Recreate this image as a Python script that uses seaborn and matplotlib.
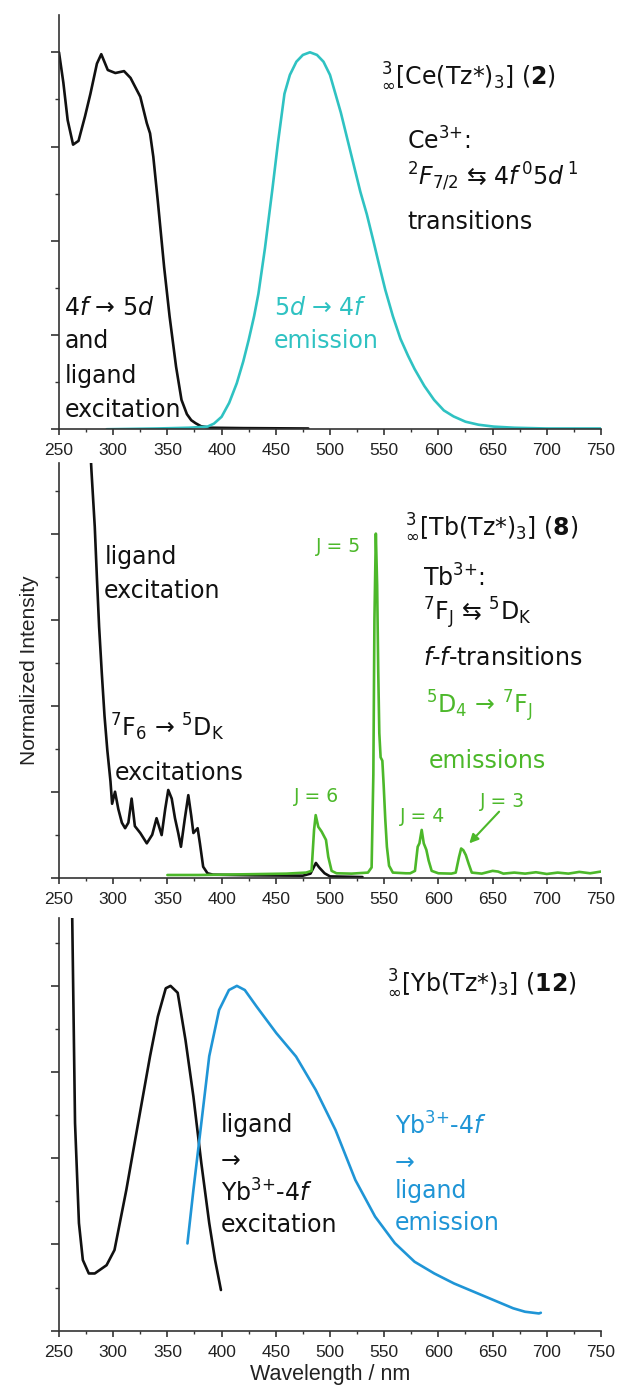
import numpy as np
import pandas as pd
import matplotlib
matplotlib.use("Agg")
import matplotlib.pyplot as plt
import seaborn as sns
from matplotlib.ticker import MultipleLocator, NullFormatter

# ---------------- data ----------------
ce_exc_wl = [250, 254, 258, 263, 268, 274, 279, 285, 289, 295, 302, 310, 316, 325, 331, 334,
             337, 341, 347, 352, 358, 363, 368, 372, 376, 381, 390, 420, 480]
ce_exc_i = [1.0, 0.92, 0.82, 0.755, 0.765, 0.83, 0.89, 0.97, 0.995, 0.953, 0.945, 0.95, 0.932,
            0.882, 0.812, 0.785, 0.723, 0.61, 0.43, 0.30, 0.166, 0.078, 0.04, 0.024, 0.016,
            0.008, 0.004, 0.003, 0.002]

ce_em_wl = [294, 340, 370, 387, 393, 400, 407, 414, 420, 425, 430, 434, 440, 447, 452, 458, 463,
            469, 475, 481.5, 488, 494, 500, 505, 510, 516, 522, 528, 534, 540, 545, 551, 558,
            565, 572, 578, 587, 596, 605, 614, 625, 637, 651, 670, 700, 750]
ce_em_i = [0.0, 0.002, 0.004, 0.007, 0.015, 0.033, 0.07, 0.122, 0.18, 0.237, 0.30, 0.36, 0.48,
           0.64, 0.76, 0.89, 0.94, 0.975, 0.993, 1.0, 0.993, 0.975, 0.94, 0.89, 0.84, 0.77, 0.70,
           0.63, 0.57, 0.50, 0.44, 0.37, 0.30, 0.24, 0.195, 0.16, 0.115, 0.078, 0.05, 0.034,
           0.02, 0.012, 0.007, 0.004, 0.002, 0.002]

tb_exc_wl = [278, 280, 283, 285, 287, 289.5, 292, 294.6, 297.5, 299, 301.7, 304.7, 308, 311, 314,
             317, 320, 325, 331, 336, 340, 344.7, 348, 350.8, 354, 357, 360, 362.5, 366, 369.3,
             372, 374, 377.9, 380, 383, 387, 392, 430, 475, 482, 487, 490, 495, 500, 530]
tb_exc_i = [1.3, 1.18, 1.02, 0.87, 0.73, 0.594, 0.47, 0.37, 0.28, 0.215, 0.25, 0.20, 0.16, 0.144,
            0.16, 0.23, 0.15, 0.13, 0.10, 0.125, 0.173, 0.124, 0.20, 0.255, 0.23, 0.173, 0.13,
            0.09, 0.17, 0.24, 0.18, 0.13, 0.144, 0.10, 0.032, 0.013, 0.009, 0.007, 0.006, 0.012,
            0.043, 0.03, 0.013, 0.004, 0.002]

tb_em_wl = [350, 380, 420, 460, 478, 483, 485.3, 486.8, 489.2, 492.3, 496.3, 498.4, 501.5, 506,
            520, 535, 538.4, 540, 541, 542.3, 543.5, 544.5, 545.5, 546.7, 548.3, 549.5, 551,
            552.5, 554.5, 558, 570, 574, 578.4, 580.9, 582.5, 584.6, 586.5, 588.9, 591, 593.8,
            600, 612, 616, 619, 621, 623, 625.3, 628, 630.8, 640, 650, 655, 660, 670, 680, 690,
            700, 710, 720, 730, 740, 750]
tb_em_i = [0.008, 0.008, 0.01, 0.012, 0.015, 0.02, 0.139, 0.182, 0.148, 0.134, 0.11, 0.061, 0.02,
           0.013, 0.012, 0.015, 0.03, 0.3, 0.75, 1.0, 0.85, 0.6, 0.42, 0.35, 0.34, 0.27, 0.17,
           0.09, 0.035, 0.015, 0.013, 0.013, 0.02, 0.09, 0.10, 0.139, 0.10, 0.081, 0.05, 0.02,
           0.013, 0.012, 0.015, 0.06, 0.085, 0.08, 0.066, 0.04, 0.015, 0.012, 0.02, 0.018, 0.012,
           0.015, 0.012, 0.016, 0.011, 0.015, 0.012, 0.017, 0.013, 0.018]

yb_exc_wl = [261, 262.2, 264.8, 268.4, 272, 277.5, 283, 293.9, 301.2, 312.1, 323, 334, 341.2,
             348.5, 352.9, 359.5, 366.7, 374, 381.3, 388.6, 394, 399.4]
yb_exc_i = [1.4, 1.2, 0.602, 0.312, 0.205, 0.166, 0.166, 0.19, 0.234, 0.408, 0.602, 0.796, 0.911,
            0.993, 1.0, 0.98, 0.843, 0.679, 0.486, 0.312, 0.205, 0.118]

yb_em_wl = [368.5, 374, 381.3, 388.6, 397.7, 406.8, 414.1, 421.4, 432.3, 450.5, 468.7, 486.9,
            505.1, 523.4, 541.6, 559.8, 578, 596.2, 614.4, 632.6, 650.8, 669, 679.9, 692.7, 694.5]
yb_em_i = [0.253, 0.408, 0.602, 0.796, 0.93, 0.988, 1.0, 0.988, 0.94, 0.863, 0.795, 0.698, 0.582,
           0.437, 0.331, 0.254, 0.2, 0.166, 0.137, 0.113, 0.089, 0.065, 0.055, 0.05, 0.052]

x_ticks = [250, 300, 350, 400, 450, 500, 550, 600, 650, 700, 750]

# ---------------- style ----------------
sns.set_theme(style="ticks")
plt.rcParams["font.family"] = ["Liberation Sans", "DejaVu Sans"]
plt.rcParams["mathtext.fontset"] = "dejavusans"

BLACK = "#111111"
CYAN = "#2fc2c2"
GREEN = "#4cb82a"
BLUE = "#1f95d6"
AXC = "#333333"

fig = plt.figure(figsize=(6.19, 13.86), dpi=100)
L, W = 0.0953, 0.8756
ax1 = fig.add_axes([L, 0.6903, W, 0.2989])
ax2 = fig.add_axes([L, 0.3667, W, 0.2992])
ax3 = fig.add_axes([L, 0.0399, W, 0.2978])

LW = 1.9


def curve(ax, x, y, color):
    df = pd.DataFrame({"wl": x, "I": y})
    sns.lineplot(data=df, x="wl", y="I", ax=ax, color=color, linewidth=LW,
                 estimator=None, sort=False, legend=False)


curve(ax1, ce_exc_wl, ce_exc_i, BLACK)
curve(ax1, ce_em_wl, ce_em_i, CYAN)
curve(ax2, tb_exc_wl, tb_exc_i, BLACK)
curve(ax2, tb_em_wl, tb_em_i, GREEN)
curve(ax3, yb_exc_wl, yb_exc_i, BLACK)
curve(ax3, yb_em_wl, yb_em_i, BLUE)

ylims = [(0, 1.099), (0, 1.205), (0, 1.197)]
for ax, yl in zip([ax1, ax2, ax3], ylims):
    ax.set_xlim(250, 750)
    ax.set_ylim(*yl)
    ax.set_xticks(x_ticks)
    ax.xaxis.set_minor_locator(MultipleLocator(25))
    ax.yaxis.set_major_locator(MultipleLocator(0.25))
    ax.yaxis.set_minor_locator(MultipleLocator(0.125))
    ax.yaxis.set_major_formatter(NullFormatter())
    ax.set_xlabel("")
    ax.set_ylabel("")
    for s in ["top", "right"]:
        ax.spines[s].set_visible(False)
    for s in ["left", "bottom"]:
        ax.spines[s].set_color(AXC)
        ax.spines[s].set_linewidth(1.2)
    ax.tick_params(axis="x", which="major", direction="out", length=4.5, width=1.2,
                   color=AXC, labelsize=12.5, labelcolor="#222222", pad=5.5)
    ax.tick_params(axis="x", which="minor", direction="out", length=2.3, width=1.0, color=AXC)
    ax.tick_params(axis="y", which="major", direction="out", length=5.8, width=1.2, color=AXC)
    ax.tick_params(axis="y", which="minor", direction="out", length=2.6, width=1.0, color=AXC)
    ax.set_facecolor("white")

ax2.set_ylabel("Normalized Intensity", fontsize=15, color="#222222")
ax2.yaxis.set_label_coords(-0.036, 0.5)
ax3.set_xlabel("Wavelength / nm", fontsize=15.5, color="#222222", labelpad=3)

AF = "DejaVu Sans"
FS = 17
kw = dict(family=AF, fontsize=FS, va="baseline", ha="left")

# ---- top panel (Ce) ----
ax1.text(547.3, 0.918, r"$_{\infty}^{3}$[Ce(Tz*)$_{3}$] ($\mathbf{2}$)", color=BLACK, **kw)
ax1.text(571, 0.741, r"Ce$^{3{+}}$:", color=BLACK, **kw)
ax1.text(571, 0.648, r"$^{2}F_{7/2}$ ⇆ 4$f^{\,0}$5$d^{\,1}$", color=BLACK, **kw)
ax1.text(571, 0.531, "transitions", color=BLACK, **kw)
ax1.text(255, 0.303, r"4$f$ → 5$d$", color=BLACK, **kw)
ax1.text(255, 0.215, "and", color=BLACK, **kw)
ax1.text(255, 0.123, "ligand", color=BLACK, **kw)
ax1.text(255, 0.032, "excitation", color=BLACK, **kw)
ax1.text(448, 0.303, r"5$d$ → 4$f$", color=CYAN, **kw)
ax1.text(448, 0.215, "emission", color=CYAN, **kw)

# ---- middle panel (Tb) ----
ax2.text(569.6, 0.996, r"$_{\infty}^{3}$[Tb(Tz*)$_{3}$] ($\mathbf{8}$)", color=BLACK, **kw)
ax2.text(586, 0.846, r"Tb$^{3{+}}$:", color=BLACK, **kw)
ax2.text(586, 0.749, r"$^{7}\mathrm{F}_{\mathrm{J}}$ ⇆ $^{5}\mathrm{D}_{\mathrm{K}}$", color=BLACK, **kw)
ax2.text(586, 0.618, r"$f$-$f$-transitions", color=BLACK, **kw)
ax2.text(589, 0.479, r"$^{5}\mathrm{D}_{4}$ → $^{7}\mathrm{F}_{\mathrm{J}}$", color=GREEN, **kw)
ax2.text(590.7, 0.319, "emissions", color=GREEN, **kw)
ax2.text(292, 0.912, "ligand", color=BLACK, **kw)
ax2.text(291.3, 0.812, "excitation", color=BLACK, **kw)
ax2.text(297.5, 0.41, r"$^{7}\mathrm{F}_{6}$ → $^{5}\mathrm{D}_{\mathrm{K}}$", color=BLACK, **kw)
ax2.text(301.2, 0.284, "excitations", color=BLACK, **kw)
jkw = dict(family=AF, fontsize=13.5, va="baseline", ha="left", color=GREEN)
ax2.text(486.9, 0.948, "J = 5", **jkw)
ax2.text(466.8, 0.221, "J = 6", **jkw)
ax2.text(564.6, 0.163, "J = 4", **jkw)
ax2.text(638.1, 0.206, "J = 3", **jkw)
ax2.annotate("", xy=(628.5, 0.10), xytext=(656, 0.192),
             arrowprops=dict(arrowstyle="-|>", color=GREEN, lw=1.5, mutation_scale=13,
                             shrinkA=0, shrinkB=0))

# ---- bottom panel (Yb) ----
ax3.text(552.5, 0.988, r"$_{\infty}^{3}$[Yb(Tz*)$_{3}$] ($\mathbf{12}$)", color=BLACK, **kw)
ax3.text(399.4, 0.577, "ligand", color=BLACK, **kw)
ax3.text(399.4, 0.471, "→", color=BLACK, **kw)
ax3.text(399.4, 0.374, r"Yb$^{3{+}}$-4$f$", color=BLACK, **kw)
ax3.text(399.4, 0.287, "excitation", color=BLACK, **kw)
ax3.text(559.8, 0.568, r"Yb$^{3{+}}$-4$f$", color=BLUE, **kw)
ax3.text(559.8, 0.466, "→", color=BLUE, **kw)
ax3.text(559.8, 0.384, "ligand", color=BLUE, **kw)
ax3.text(559.8, 0.292, "emission", color=BLUE, **kw)

fig.savefig("out.png", dpi=100, facecolor="white")
